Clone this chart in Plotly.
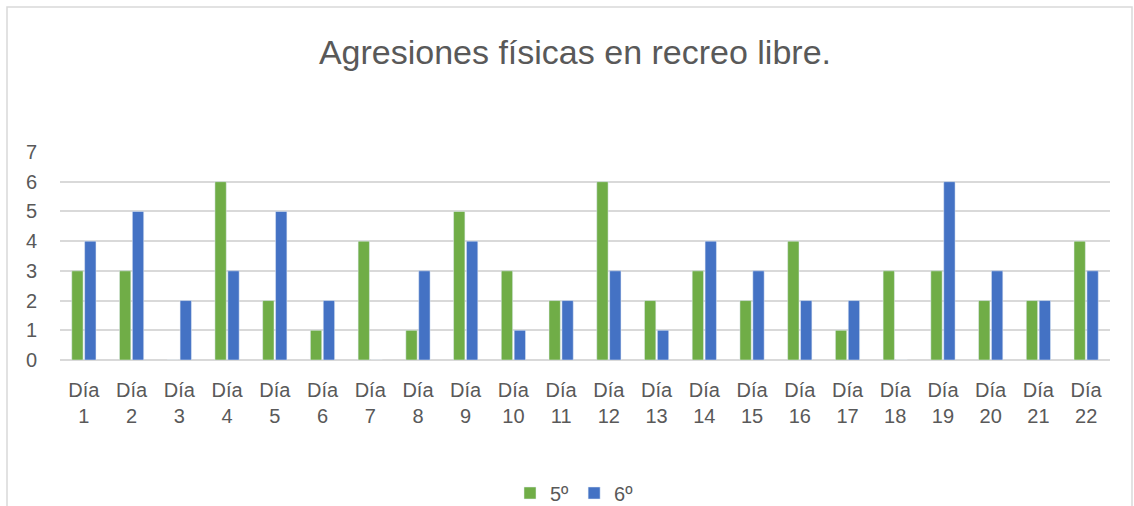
import plotly.graph_objects as go

# Datos
dias = ["Día<br>{}".format(i) for i in range(1, 23)]
quinto = [3, 3, 0, 6, 2, 1, 4, 1, 5, 3, 2, 6, 2, 3, 2, 4, 1, 3, 3, 2, 2, 4]
sexto = [4, 5, 2, 3, 5, 2, 0, 3, 4, 1, 2, 3, 1, 4, 3, 2, 2, 0, 6, 3, 2, 3]

txt = "#595959"
fnt = "Liberation Sans"

fig = go.Figure()
fig.add_trace(go.Bar(x = dias, y = quinto, name = "5º", marker_color = "#70AD47"))
fig.add_trace(go.Bar(x = dias, y = sexto, name = "6º", marker_color = "#4472C4"))

# plot area: x 60..1110, y 152..360
fig.update_layout(
        width = 1134, height = 506,
        margin = dict(l = 60, r = 24, t = 152, b = 146, autoexpand = False),
        paper_bgcolor = "white", plot_bgcolor = "white",
        font = dict(family = fnt, color = txt, size = 20),
        title = dict(
            text = "Agresiones físicas en recreo libre.",
            x = 0.507, xanchor = "center",
            y = 1 - 52 / 506, yanchor = "middle",
            font = dict(size = 34, color = txt, family = fnt)
            ),
        barmode = "group",
        bargap = 0.46,
        bargroupgap = 0.12,
        legend = dict(
            orientation = "h",
            x = 0.49, xanchor = "center",
            y = -133 / 208, yanchor = "middle",
            bgcolor = "rgba(0,0,0,0)",
            font = dict(size = 20, color = txt),
            itemwidth = 30
            ),
        xaxis = dict(showgrid = False, showline = False, ticks = "",
            automargin = False, ticklabelstandoff = 16,
            tickfont = dict(size = 20, color = txt)),
        yaxis = dict(range = [0, 7], dtick = 1, showgrid = True,
            gridcolor = "#D9D9D9", gridwidth = 1.5, zeroline = True,
            zerolinecolor = "#D9D9D9", zerolinewidth = 1.5, showline = False,
            ticks = "", ticklabelstandoff = 22, automargin = False,
            tickfont = dict(size = 20, color = txt)),
        shapes = [dict(type = "rect", xref = "paper", yref = "paper",
            x0 = -53 / 1050, x1 = 1072 / 1050,
            y0 = -150 / 208, y1 = 353 / 208,
            line = dict(color = "#D9D9D9", width = 1.5),
            layer = "below")]
        )

# quitar el margen por defecto del body para que la figura empiece en 0,0
fig.write_html("out.html", config = {"displayModeBar": False},
        post_script = "document.body.style.margin = '0';")
